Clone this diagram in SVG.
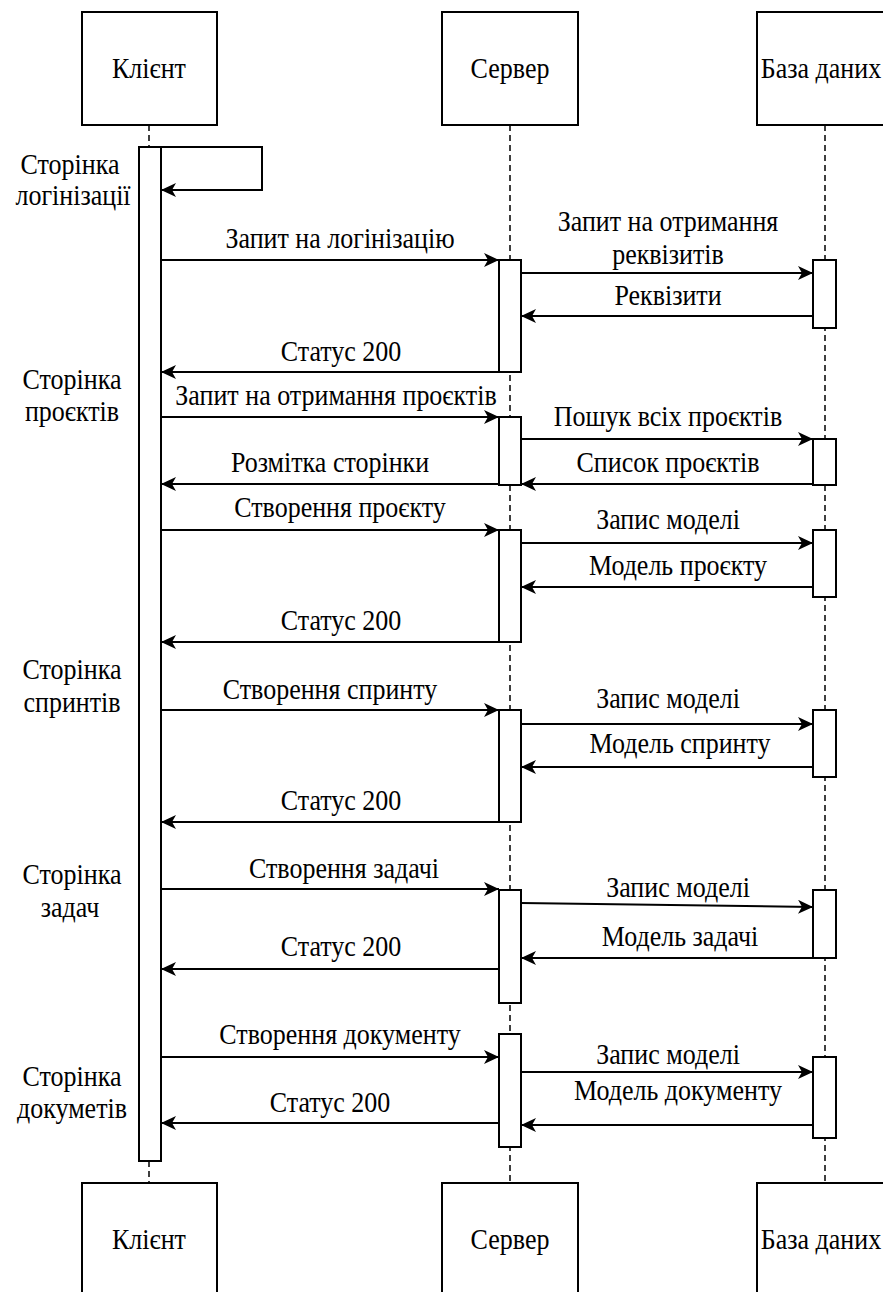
<svg xmlns="http://www.w3.org/2000/svg" width="883" height="1292" viewBox="0 0 883 1292">
<style>
.box{fill:#fff;stroke:#000;stroke-width:2}
.bar{fill:#fff;stroke:#000;stroke-width:2}
.life{stroke:#000;stroke-width:1.5;stroke-dasharray:6 4;fill:none}
.msg{stroke:#000;stroke-width:2;fill:none;marker-end:url(#arr)}
text{font-family:'Liberation Serif','Times New Roman',serif;font-size:26px;fill:#000;text-anchor:middle}
</style>
<defs>
<marker id="arr" markerUnits="userSpaceOnUse" markerWidth="16" markerHeight="14" refX="15" refY="7" orient="auto">
<path d="M0,0 L15,7 L0,14 L4,7 z" fill="#000"/>
</marker>
</defs>
<g id="lifelines">
<line class="life" x1="149" y1="125" x2="149" y2="147"/>
<line class="life" x1="149" y1="1161" x2="149" y2="1183"/>
<line class="life" x1="510" y1="125" x2="510" y2="1183"/>
<line class="life" x1="825" y1="125" x2="825" y2="1183"/>
</g>
<g id="client-top"><rect class="box" x="82" y="12" width="135" height="113"/><text transform="translate(149,78) scale(1,1.12)">Клієнт</text></g>
<g id="server-top"><rect class="box" x="442" y="12" width="136" height="113"/><text transform="translate(510,78) scale(1,1.12)">Сервер</text></g>
<g id="db-top"><rect class="box" x="757" y="12" width="136" height="113"/><text transform="translate(821,78) scale(1,1.12)">База даних</text></g>
<g id="client-bottom"><rect class="box" x="82" y="1183" width="135" height="113"/><text transform="translate(149,1249) scale(1,1.12)">Клієнт</text></g>
<g id="server-bottom"><rect class="box" x="442" y="1183" width="136" height="113"/><text transform="translate(510,1249) scale(1,1.12)">Сервер</text></g>
<g id="db-bottom"><rect class="box" x="757" y="1183" width="136" height="113"/><text transform="translate(821,1249) scale(1,1.12)">База даних</text></g>
<g id="client-activation"><rect class="bar" x="139" y="147" width="22" height="1014"/></g>
<g id="server-activations">
<rect class="bar" x="499" y="260" width="22" height="112"/>
<rect class="bar" x="499" y="417" width="22" height="68"/>
<rect class="bar" x="499" y="530" width="22" height="112"/>
<rect class="bar" x="499" y="710" width="22" height="112"/>
<rect class="bar" x="499" y="890" width="22" height="113"/>
<rect class="bar" x="499" y="1034" width="22" height="113"/>
</g>
<g id="db-activations">
<rect class="bar" x="813" y="260" width="23" height="68"/>
<rect class="bar" x="813" y="439" width="23" height="46"/>
<rect class="bar" x="813" y="530" width="23" height="67"/>
<rect class="bar" x="813" y="710" width="23" height="67"/>
<rect class="bar" x="813" y="890" width="23" height="68"/>
<rect class="bar" x="813" y="1057" width="23" height="81"/>
</g>
<g id="connectors">
<path class="msg" d="M161,147 H262 V190 H161"/>
<line class="msg" x1="161" y1="260" x2="499" y2="260"/>
<line class="msg" x1="521" y1="273" x2="813" y2="273"/>
<line class="msg" x1="813" y1="316" x2="521" y2="316"/>
<line class="msg" x1="499" y1="372" x2="161" y2="372"/>
<line class="msg" x1="161" y1="417" x2="499" y2="417"/>
<line class="msg" x1="521" y1="439" x2="813" y2="439"/>
<line class="msg" x1="813" y1="484" x2="521" y2="484"/>
<line class="msg" x1="499" y1="484" x2="161" y2="484"/>
<line class="msg" x1="161" y1="530" x2="499" y2="530"/>
<line class="msg" x1="521" y1="543" x2="813" y2="543"/>
<line class="msg" x1="813" y1="587" x2="521" y2="587"/>
<line class="msg" x1="499" y1="642" x2="161" y2="642"/>
<line class="msg" x1="161" y1="710" x2="499" y2="710"/>
<line class="msg" x1="521" y1="724" x2="813" y2="724"/>
<line class="msg" x1="813" y1="767" x2="521" y2="767"/>
<line class="msg" x1="499" y1="822" x2="161" y2="822"/>
<line class="msg" x1="161" y1="889" x2="499" y2="889"/>
<line class="msg" x1="521" y1="903" x2="813" y2="907"/>
<line class="msg" x1="813" y1="958" x2="521" y2="958"/>
<line class="msg" x1="499" y1="969" x2="161" y2="969"/>
<line class="msg" x1="161" y1="1057" x2="499" y2="1057"/>
<line class="msg" x1="521" y1="1072" x2="813" y2="1072"/>
<line class="msg" x1="813" y1="1125" x2="521" y2="1125"/>
<line class="msg" x1="499" y1="1123" x2="161" y2="1123"/>
</g>
<g id="labels">
<text transform="translate(70,174) scale(1,1.12)">Сторінка</text><text transform="translate(73,205) scale(1,1.12)">логінізації</text>
<text transform="translate(72,389) scale(1,1.12)">Сторінка</text><text transform="translate(72,421) scale(1,1.12)">проєктів</text>
<text transform="translate(72,679) scale(1,1.12)">Сторінка</text><text transform="translate(72,712) scale(1,1.12)">спринтів</text>
<text transform="translate(72,884) scale(1,1.12)">Сторінка</text><text transform="translate(70,917) scale(1,1.12)">задач</text>
<text transform="translate(72,1086) scale(1,1.12)">Сторінка</text><text transform="translate(72,1118) scale(1,1.12)">докуметів</text>
<text transform="translate(340,248) scale(1,1.12)">Запит на логінізацію</text>
<text transform="translate(668,231) scale(1,1.12)">Запит на отримання</text><text transform="translate(668,264) scale(1,1.12)">реквізитів</text>
<text transform="translate(668,305) scale(1,1.12)">Реквізити</text>
<text transform="translate(341,361) scale(1,1.12)">Статус 200</text>
<text transform="translate(336,405) scale(1,1.12)">Запит на отримання проєктів</text>
<text transform="translate(668,426) scale(1,1.12)">Пошук всіх проєктів</text>
<text transform="translate(668,472) scale(1,1.12)">Список проєктів</text>
<text transform="translate(330,472) scale(1,1.12)">Розмітка сторінки</text>
<text transform="translate(340,517) scale(1,1.12)">Створення проєкту</text>
<text transform="translate(668,529) scale(1,1.12)">Запис моделі</text>
<text transform="translate(678,575) scale(1,1.12)">Модель проєкту</text>
<text transform="translate(341,630) scale(1,1.12)">Статус 200</text>
<text transform="translate(330,699) scale(1,1.12)">Створення спринту</text>
<text transform="translate(668,708) scale(1,1.12)">Запис моделі</text>
<text transform="translate(680,753) scale(1,1.12)">Модель спринту</text>
<text transform="translate(341,810) scale(1,1.12)">Статус 200</text>
<text transform="translate(344,878) scale(1,1.12)">Створення задачі</text>
<text transform="translate(678,897) scale(1,1.12)">Запис моделі</text>
<text transform="translate(680,946) scale(1,1.12)">Модель задачі</text>
<text transform="translate(341,956) scale(1,1.12)">Статус 200</text>
<text transform="translate(340,1044) scale(1,1.12)">Створення документу</text>
<text transform="translate(668,1064) scale(1,1.12)">Запис моделі</text>
<text transform="translate(678,1100) scale(1,1.12)">Модель документу</text>
<text transform="translate(330,1112) scale(1,1.12)">Статус 200</text>
</g>
</svg>
